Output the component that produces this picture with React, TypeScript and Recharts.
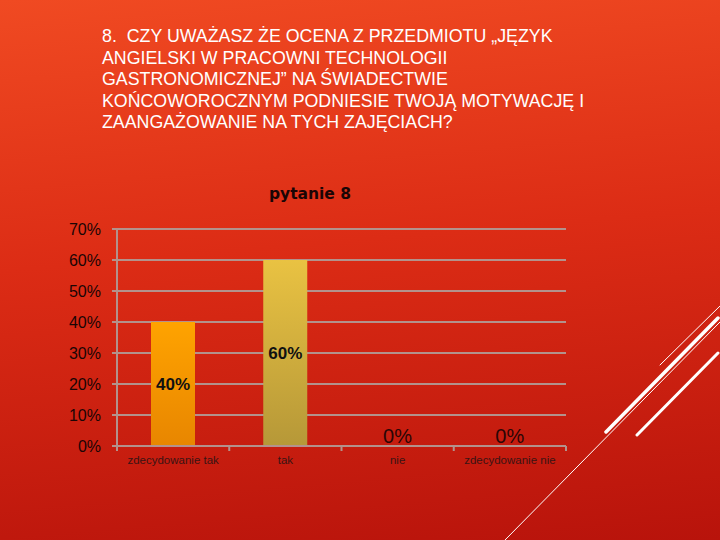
import { BarChart, Bar, Cell, XAxis, YAxis, CartesianGrid, LabelList } from "recharts";

const categories = ["zdecydowanie tak", "tak", "nie", "zdecydowanie nie"];
const values = [40, 60, 0, 0];
const yTicks = [0, 10, 20, 30, 40, 50, 60, 70];
const titleLines = [
  "8.  CZY UWAŻASZ ŻE OCENA Z PRZEDMIOTU „JĘZYK",
  "ANGIELSKI W PRACOWNI TECHNOLOGII",
  "GASTRONOMICZNEJ” NA ŚWIADECTWIE",
  "KOŃCOWOROCZNYM PODNIESIE TWOJĄ MOTYWACJĘ I",
  "ZAANGAŻOWANIE NA TYCH ZAJĘCIACH?",
];
const chartTitle = "pytanie 8";
const barFills = ["url(#barOrange)", "url(#barGold)", "url(#barOrange)", "url(#barGold)"];

const data = categories.map((name, i) => ({ name, value: values[i] }));

const FONT = "'Liberation Sans', Arial, sans-serif";
const GRID = "#b3928c";

function XTick(props: any) {
  const { x, y, payload, index, visibleTicksCount } = props;
  const half = payload.offset ?? 0;
  const isLast = index === visibleTicksCount - 1;
  return (
    <g>
      <line x1={x - half} x2={x - half} y1={y - 8} y2={y - 3} stroke={GRID} strokeWidth={2} />
      {isLast && <line x1={x + half} x2={x + half} y1={y - 8} y2={y - 3} stroke={GRID} strokeWidth={2} />}
      <text x={x} y={y + 10} textAnchor="middle" fontSize={11.5} fontFamily={FONT} fill="#3a1414">
        {payload.value}
      </text>
    </g>
  );
}

function ValueLabel(props: any) {
  const { x, y, width, height, value } = props;
  const cx = x + width / 2;
  if (!value) {
    return (
      <text x={cx} y={y - 3} textAnchor="middle" fontSize={20} fontFamily={FONT} fill="#2a0606">
        {`${value}%`}
      </text>
    );
  }
  return (
    <text x={cx} y={y + height / 2} dy="0.36em" textAnchor="middle" fontSize={17} fontWeight="bold" fontFamily={FONT} fill="#111">
      {`${value}%`}
    </text>
  );
}

export default function App() {
  return (
    <div
      style={{
        position: "relative",
        width: 720,
        height: 540,
        overflow: "hidden",
        background: "linear-gradient(175deg, #f04a22 0%, #dc2c15 45%, #b8130b 100%)",
        fontFamily: FONT,
      }}
    >
      <style>{`body{margin:0}`}</style>
      <div style={{ position: "absolute", left: 102, top: 26, color: "#fff", fontSize: 17.8, lineHeight: "21.5px" }}>
        {titleLines.map((l) => (
          <div key={l} style={{ whiteSpace: "pre" }}>{l}</div>
        ))}
      </div>
      <div
        style={{
          position: "absolute",
          left: 0,
          width: 620,
          top: 185,
          textAlign: "center",
          fontSize: 15.5,
          fontWeight: "bold",
          color: "#1a0505",
          fontFamily: "'DejaVu Sans', sans-serif",
        }}
      >
        {chartTitle}
      </div>
      <div style={{ position: "absolute", left: 0, top: 0 }}>
        <BarChart width={720} height={540} data={data} margin={{ top: 229, right: 154, bottom: 0, left: 57 }}>
          <defs>
            <linearGradient id="barOrange" x1="0" y1="0" x2="0" y2="1">
              <stop offset="0%" stopColor="#ffa300" />
              <stop offset="100%" stopColor="#e88600" />
            </linearGradient>
            <linearGradient id="barGold" x1="0" y1="0" x2="0" y2="1">
              <stop offset="0%" stopColor="#e9c242" />
              <stop offset="100%" stopColor="#b69838" />
            </linearGradient>
          </defs>
          <CartesianGrid vertical={false} stroke={GRID} strokeWidth={2} />
          <XAxis
            dataKey="name"
            height={94}
            tickLine={false}
            axisLine={{ stroke: GRID, strokeWidth: 2 }}
            tick={<XTick />}
            interval={0}
          />
          <YAxis
            width={60}
            domain={[0, 70]}
            ticks={yTicks}
            tickFormatter={(v) => `${v}%`}
            axisLine={{ stroke: GRID, strokeWidth: 2 }}
            tickLine={{ stroke: GRID, strokeWidth: 2 }}
            tickSize={5}
            tickMargin={11}
            tick={{ fontSize: 16, fill: "#1a0505", fontFamily: FONT }}
          />
          <Bar dataKey="value" barSize={44} minPointSize={0.01} isAnimationActive={false}>
            {data.map((_, i) => (
              <Cell key={i} fill={barFills[i]} />
            ))}
            <LabelList dataKey="value" content={<ValueLabel />} />
          </Bar>
        </BarChart>
      </div>
      <svg width={720} height={540} style={{ position: "absolute", left: 0, top: 0, pointerEvents: "none" }}>
        <g stroke="#fff" strokeLinecap="round">
          <line x1={606} y1={432} x2={718} y2={318} strokeWidth={3.5} />
          <line x1={637} y1={435} x2={718} y2={353} strokeWidth={3} />
          <line x1={505} y1={540} x2={720} y2={322} strokeWidth={1} />
          <line x1={660} y1={365} x2={720} y2={306} strokeWidth={1} />
        </g>
      </svg>
    </div>
  );
}
